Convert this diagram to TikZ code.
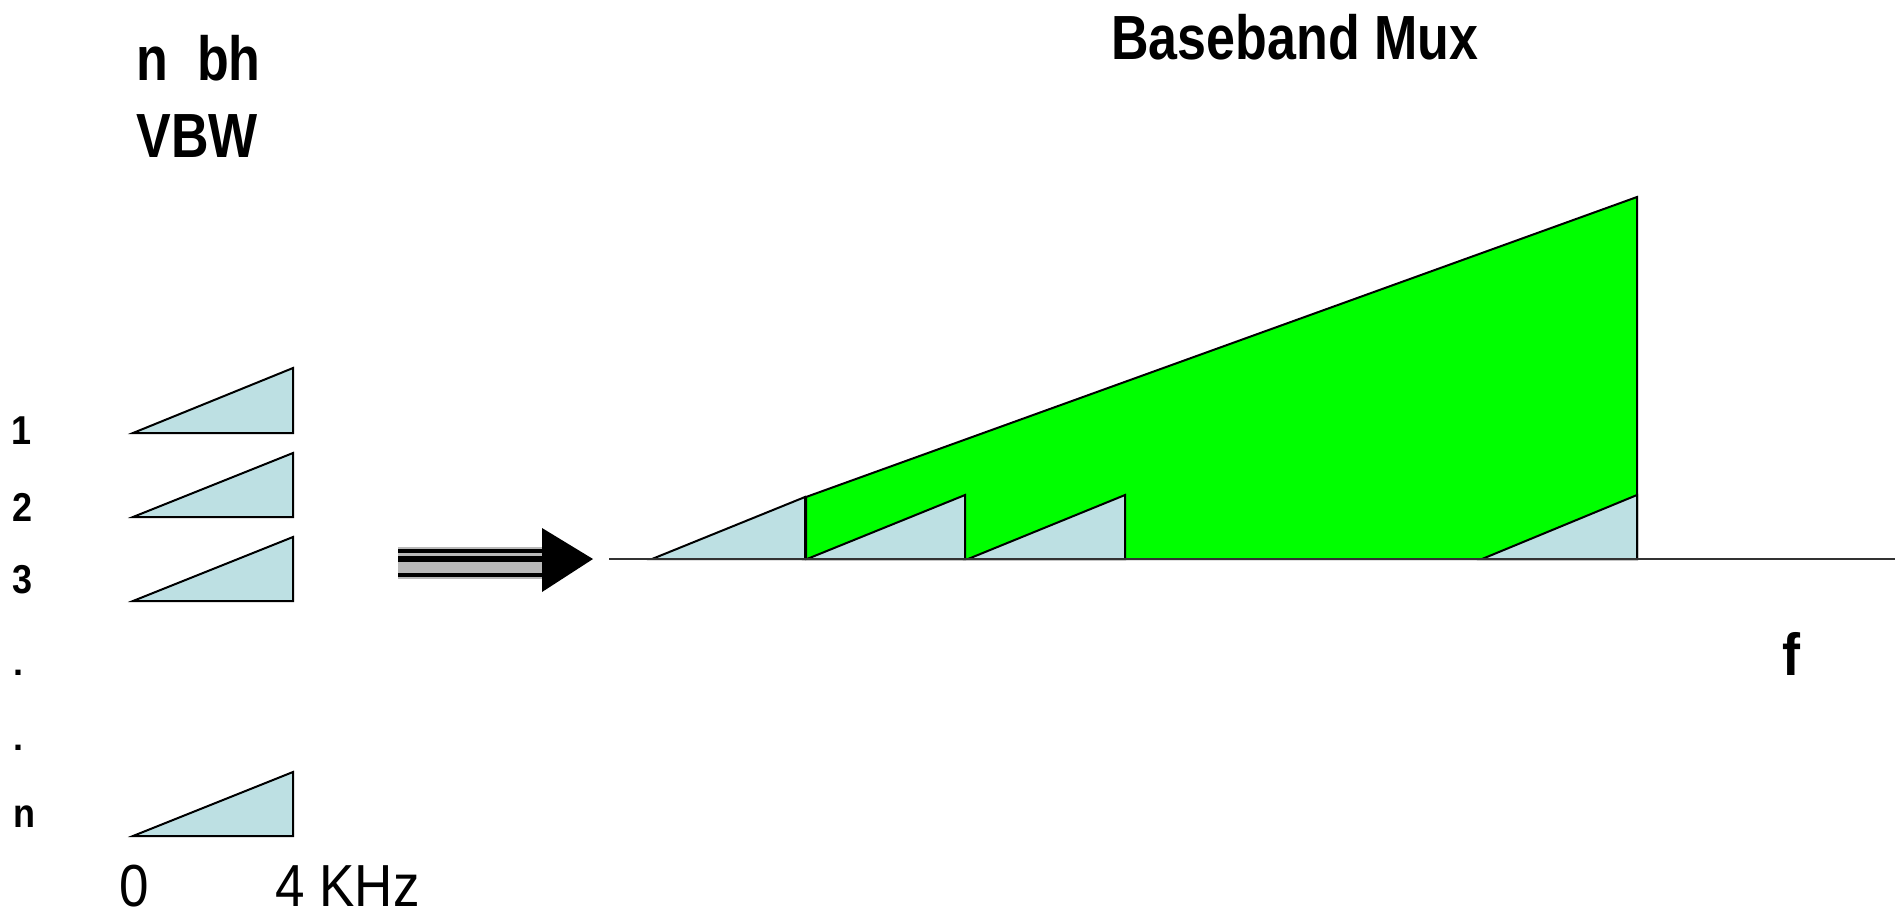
\documentclass[tikz,border=0pt]{standalone}
\usepackage{fontspec}
\setmainfont{Liberation Sans}
\definecolor{ltblue}{RGB}{189,224,227}
\definecolor{brgreen}{RGB}{0,255,0}
\begin{document}
\begin{tikzpicture}[x=0.5pt,y=-0.5pt,
  tri/.style={draw=black, line width=1pt, fill=ltblue, line join=miter},
  band/.style={draw=black, line width=1pt, fill=brgreen, line join=miter},
  boldlbl/.style={inner sep=0pt, anchor=base west, font=\fontsize{26}{30}\selectfont\bfseries},
  numlbl/.style={inner sep=0pt, anchor=base, font=\fontsize{18}{22}\selectfont\bfseries},
  reglbl/.style={inner sep=0pt, anchor=base west, font=\fontsize{26.5}{30}\selectfont}]
\useasboundingbox (0,0) rectangle (1895,917);
\fill[white] (0,0) rectangle (1895,917);

% titles
\node[boldlbl] (nbh) at (136,80) {\scalebox{1}[1.2]{n\ \ bh}};
\node[boldlbl] (vbw) at (136,157) {\scalebox{1}[1.2]{VBW}};
\node[boldlbl] (title) at (1111,59) {\scalebox{1}[1.2]{Baseband Mux}};

% channel labels
\node[numlbl] (l1) at (22,444) {\scalebox{1}[1.12]{1}};
\node[numlbl] (l2) at (23,521) {\scalebox{1}[1.12]{2}};
\node[numlbl] (l3) at (23,593) {\scalebox{1}[1.12]{3}};
\node[numlbl] (d1) at (19,675) {.};
\node[numlbl] (d2) at (19,750) {.};
\node[numlbl] (ln) at (24,827) {\scalebox{1}[1.12]{n}};

% left triangles
\foreach \t/\b in {368/433, 453/517, 537/601, 772/836}
  \draw[tri] (133,\b) -- (293,\t) -- (293,\b) -- cycle;

\node[reglbl, anchor=base] (zero) at (134,906) {\scalebox{1}[1.12]{0}};
\node[reglbl] (fourk) at (275,906) {\scalebox{1}[1.12]{4 KHz}};

% big arrow
\coordinate (ashaft) at (398,559);
\coordinate (abase) at (542,559);
\coordinate (atip) at (593,559);
\fill[gray!55] ([yshift=-10pt]ashaft) rectangle ([yshift=6pt]abase);
\draw[line width=1.6pt] ([yshift=-8pt]ashaft) -- ([yshift=-8pt]abase);
\draw[line width=2.6pt] (ashaft) -- (abase);
\draw[line width=2.2pt] ([yshift=4pt]ashaft) -- ([yshift=4pt]abase);
\fill[black] (542,528) -- (atip) -- (542,592) -- cycle;

% green band
\draw[band] (806,559) -- (806,497) -- (1637,197) -- (1637,559) -- cycle;

% multiplexed triangles
\draw[tri] (652,559) -- (805,497) -- (805,559) -- cycle;
\draw[tri] (807,559) -- (965,495) -- (965,559) -- cycle;
\draw[tri] (968,559) -- (1125,495) -- (1125,559) -- cycle;
\draw[tri] (1482,559) -- (1637,495) -- (1637,559) -- cycle;

% axis
\coordinate (ax0) at (609,559);
\coordinate (ax1) at (1895,559);
\draw[line width=1.2pt, black!80] (ax0) -- (ax1);

\node[boldlbl, anchor=base] (f) at (1791,675) {\fontsize{27}{30}\selectfont\scalebox{1}[1.1]{f}};
\end{tikzpicture}
\end{document}
